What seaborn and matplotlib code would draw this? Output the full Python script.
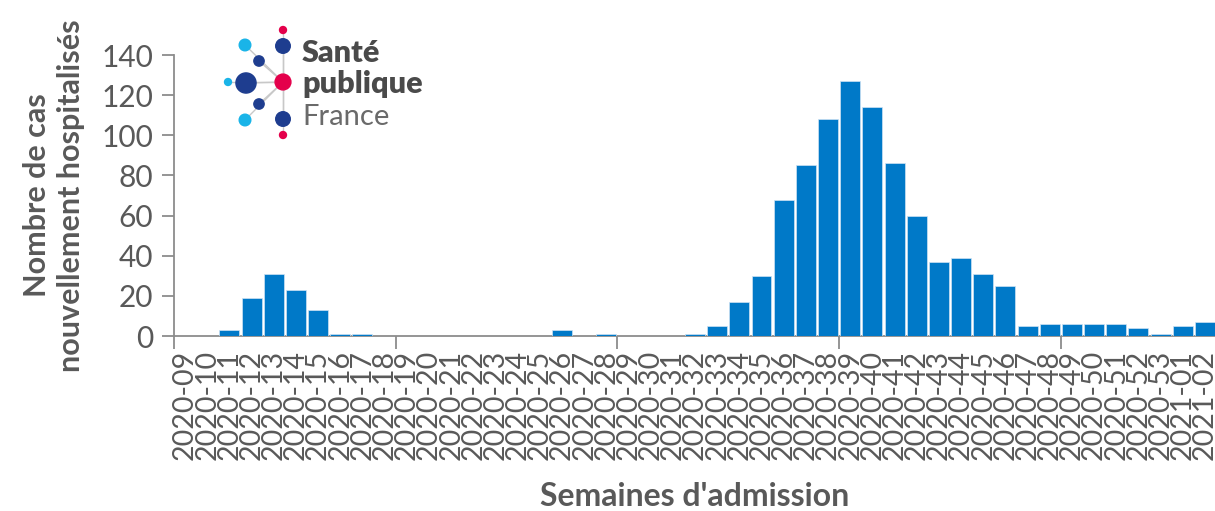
import matplotlib
matplotlib.use("Agg")
import matplotlib.pyplot as plt
import seaborn as sns
import numpy as np

# Semaines d'admission et nombre de cas nouvellement hospitalisés
semaines = ["2020-%02d" % w for w in range(9, 54)] + ["2021-01", "2021-02"]
cas = [0, 0, 3, 19, 31, 23, 13, 1, 1, 0,
       0, 0, 0, 0, 0, 0, 0, 3, 0, 1,
       0, 0, 0, 1, 5, 17, 30, 68, 85, 108,
       127, 114, 86, 60, 37, 39, 31, 25, 5, 6,
       6, 6, 6, 4, 1, 5, 7]
yticks = [0, 20, 40, 60, 80, 100, 120, 140]

gris = "#595959"
bleu = "#0079C8"

sns.set_theme(style="white")
plt.rcParams["font.family"] = ["Lato", "DejaVu Sans"]

fig = plt.figure(figsize=(12.15, 5.11), dpi=100)
ax = fig.add_axes([174 / 1215, 1 - 336 / 511, 1042 / 1215, (336 - 55) / 511])

sns.barplot(x=semaines, y=cas, color=bleu, saturation=1, width=0.9,
            edgecolor="#cfe3f3", linewidth=0.5, ax=ax, zorder=3)

ax.set_xlim(-0.5, len(semaines) - 0.5)
ax.set_ylim(0, 140)
ax.set_yticks(yticks)

for s in ["top", "right"]:
    ax.spines[s].set_visible(False)
for s in ["left", "bottom"]:
    ax.spines[s].set_color("#8c8c8c")
    ax.spines[s].set_linewidth(1.3)
    ax.spines[s].set_zorder(2)

ax.tick_params(axis="y", which="major", direction="out", length=9, width=1.3,
               color="#8c8c8c", labelsize=21.5, labelcolor=gris, pad=6, left=True)
ax.tick_params(axis="x", which="major", length=0, labelsize=20.5,
               labelcolor=gris, pad=10, labelrotation=90)
ax.set_xticks(np.arange(-0.5, len(semaines), 10), minor=True)
ax.tick_params(axis="x", which="minor", direction="out", length=9, width=1.3,
               color="#8c8c8c", bottom=True)

ax.set_ylabel("Nombre de cas\nnouvellement hospitalisés", fontsize=22,
              fontweight="bold", color=gris, labelpad=12, linespacing=1.25)
ax.set_xlabel("Semaines d'admission", fontsize=23, fontweight="bold",
              color=gris, labelpad=16)

# Logo Santé publique France
logo = fig.add_axes([0, 0, 1, 1], facecolor="none")
logo.set_xlim(0, 1215)
logo.set_ylim(511, 0)
logo.axis("off")
cx, cy = 283, 82
pts = [(245, 45), (245, 120), (228, 82), (246, 83), (259, 61), (259, 104),
       (283, 46), (283, 119), (283, 30), (283, 135)]
for px, py in pts:
    logo.plot([cx, px], [cy, py], color="#c8c8c8", lw=1, zorder=1)
logo.scatter([245, 245, 228], [45, 120, 82], s=[70, 70, 25], color="#1ab4e8", zorder=2)
logo.scatter([246, 259, 259, 283, 283], [83, 61, 104, 46, 119],
             s=[210, 55, 55, 110, 110], color="#1e3d8f", zorder=2)
logo.scatter([283, 283, 283], [82, 30, 135], s=[130, 25, 25], color="#e4004b", zorder=2)
logo.text(302, 53, "Santé", fontsize=22, fontweight="heavy", color="#4a4a4a", va="center")
logo.text(302, 84, "publique", fontsize=22, fontweight="heavy", color="#4a4a4a", va="center")
logo.text(302, 117, "France", fontsize=21, fontweight="normal", color="#6a6a6a", va="center")

fig.savefig("out.png", dpi=100)
